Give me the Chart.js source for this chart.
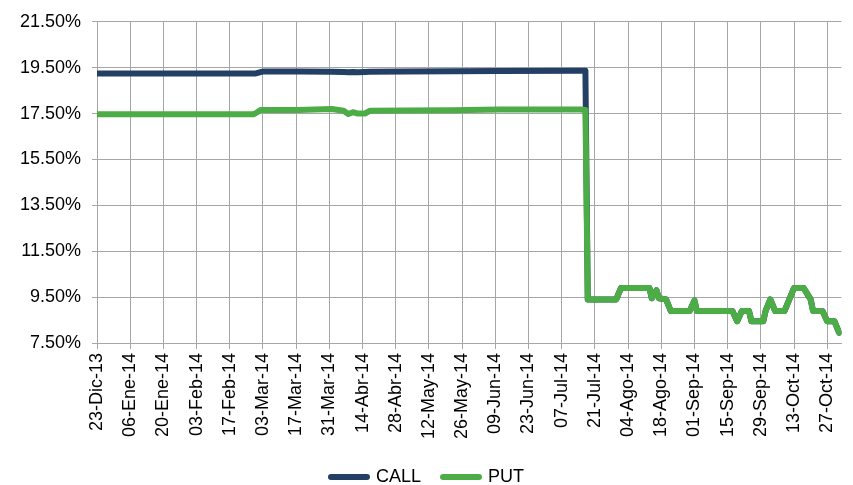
<!DOCTYPE html>
<html>
<head>
<meta charset="utf-8">
<script src="https://cdn.jsdelivr.net/npm/chart.js@4.4.1/dist/chart.umd.min.js"></script>
<style>
  html, body { margin: 0; padding: 0; background: #fff; }
  #chart { display: block; }
</style>
</head>
<body>
<canvas id="chart" width="853" height="485"></canvas>
<script>
// implied volatility, CALL vs PUT (%)
const dates = [
  '2013-12-23', '2014-02-27', '2014-02-28', '2014-03-02', '2014-03-03', '2014-03-18',
  '2014-04-01', '2014-04-06', '2014-04-08', '2014-04-10', '2014-04-12', '2014-04-15',
  '2014-04-17', '2014-05-02', '2014-05-22', '2014-06-11', '2014-07-15', '2014-07-17',
  '2014-07-18', '2014-07-30', '2014-08-01', '2014-08-13', '2014-08-14', '2014-08-16',
  '2014-08-17', '2014-08-20', '2014-08-22', '2014-08-30', '2014-09-01', '2014-09-02',
  '2014-09-17', '2014-09-19', '2014-09-21', '2014-09-24', '2014-09-25', '2014-09-30',
  '2014-10-01', '2014-10-03', '2014-10-05', '2014-10-09', '2014-10-11', '2014-10-13',
  '2014-10-17', '2014-10-20', '2014-10-21', '2014-10-25', '2014-10-27', '2014-10-30',
  '2014-11-01'
];
const callVals = [
  19.25, 19.25, 19.25, 19.31, 19.33, 19.33,
  19.32, 19.31, 19.30, 19.31, 19.30, 19.31,
  19.32, 19.33, 19.35, 19.36, 19.37, 19.37,
  9.40, 9.40, 9.90, 9.90, 9.45, 9.80,
  9.45, 9.40, 8.90, 8.90, 9.35, 8.90,
  8.90, 8.45, 8.90, 8.90, 8.45, 8.45,
  8.90, 9.40, 8.90, 8.90, 9.40, 9.90,
  9.90, 9.40, 8.90, 8.90, 8.45, 8.45,
  7.95
];
const putVals = [
  17.47, 17.47, 17.52, 17.66, 17.66, 17.66,
  17.70, 17.62, 17.48, 17.56, 17.50, 17.50,
  17.62, 17.63, 17.65, 17.68, 17.68, 17.66,
  9.40, 9.40, 9.90, 9.90, 9.45, 9.80,
  9.45, 9.40, 8.90, 8.90, 9.35, 8.90,
  8.90, 8.45, 8.90, 8.90, 8.45, 8.45,
  8.90, 9.40, 8.90, 8.90, 9.40, 9.90,
  9.90, 9.40, 8.90, 8.90, 8.45, 8.45,
  7.95
];
const tickLabels = [
  '23-Dic-13', '06-Ene-14', '20-Ene-14', '03-Feb-14', '17-Feb-14', '03-Mar-14',
  '17-Mar-14', '31-Mar-14', '14-Abr-14', '28-Abr-14', '12-May-14', '26-May-14',
  '09-Jun-14', '23-Jun-14', '07-Jul-14', '21-Jul-14', '04-Ago-14', '18-Ago-14',
  '01-Sep-14', '15-Sep-14', '29-Sep-14', '13-Oct-14', '27-Oct-14'
];

const DAY = 86400000;
const start = Date.parse(dates[0]);
const dayOf = (d) => Math.round((Date.parse(d) - start) / DAY);
const toPoints = (vals) => vals.map((v, i) => ({ x: dayOf(dates[i]), y: v }));

const gridColor = '#a6a6a6';
const textFont = { family: '"Liberation Sans", Arial, sans-serif', size: 18 };

const lineStyle = {
  borderWidth: 6,
  pointRadius: 0,
  tension: 0,
  fill: false,
  borderJoinStyle: 'round',
  borderCapStyle: 'round'
};

new Chart(document.getElementById('chart'), {
  type: 'line',
  data: {
    datasets: [
      // PUT gets the lower order so it is painted over CALL after the drop
      Object.assign({ label: 'CALL', data: toPoints(callVals), borderColor: '#243f64', backgroundColor: '#243f64', order: 1 }, lineStyle),
      Object.assign({ label: 'PUT', data: toPoints(putVals), borderColor: '#4cac46', backgroundColor: '#4cac46', order: 0 }, lineStyle)
    ]
  },
  options: {
    responsive: false,
    animation: false,
    // negative bottom padding pushes the legend row down to the canvas edge
    layout: { padding: { top: 14, right: 8, left: 10, bottom: -11 } },
    scales: {
      x: {
        type: 'linear',
        min: 0,
        max: 314,
        grid: { color: gridColor, tickLength: 6, drawTicks: true },
        border: { color: gridColor },
        afterFit: (scale) => { scale.height = 103; },
        ticks: {
          stepSize: 14,
          includeBounds: false,
          autoSkip: false,
          minRotation: 90,
          maxRotation: 90,
          padding: 4,
          color: '#000',
          font: textFont,
          callback: (v) => tickLabels[Math.round(v / 14)] || ''
        }
      },
      y: {
        min: 7.5,
        max: 21.5,
        grid: { color: gridColor, tickLength: 5 },
        border: { color: gridColor },
        afterFit: (scale) => { scale.width = 87; },
        ticks: {
          stepSize: 2,
          padding: 11,
          color: '#000',
          font: textFont,
          callback: (v) => v.toFixed(2) + '%'
        }
      }
    },
    plugins: {
      tooltip: { enabled: false },
      legend: {
        position: 'bottom',
        labels: {
          // zero-height box stroked with round joins -> short thick line sample
          boxWidth: 36,
          boxHeight: 0,
          color: '#000',
          font: textFont,
          padding: 22,
          sort: (a, b) => a.datasetIndex - b.datasetIndex
        }
      }
    }
  }
});
</script>
</body>
</html>
